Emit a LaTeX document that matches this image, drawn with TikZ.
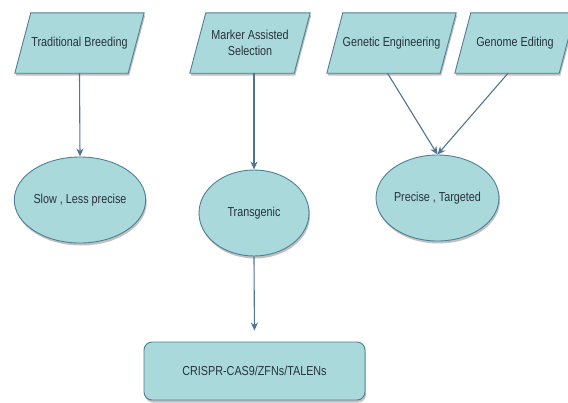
\documentclass[tikz,border=0pt]{standalone}
\usepackage{fontspec}
\setmainfont[FakeStretch=0.83]{Liberation Sans}
\usetikzlibrary{shapes.geometric,shadows,arrows.meta}
\pgfdeclarelayer{bg}
\pgfsetlayers{bg,main}
\definecolor{boxfill}{HTML}{A9D9DB}
\definecolor{boxedge}{HTML}{4E7F96}
\definecolor{arrowcol}{HTML}{4F7592}
\definecolor{txtcol}{HTML}{28333C}
\tikzset{
  look/.style={draw=boxedge, fill=boxfill, line width=0.9pt,
    drop shadow={shadow xshift=1pt, shadow yshift=-2.5pt, opacity=0.35, fill=black!70}},
  txt/.style={text=txtcol, font=\fontsize{13}{15.5}\selectfont, align=center, inner sep=0pt},
  paratext/.style={txt, rectangle, minimum height=60pt},
  ell/.style={look, txt, ellipse, minimum width=110pt, minimum height=86pt},
  rbox/.style={look, txt, rectangle, rounded corners=8pt, minimum width=221pt, minimum height=58pt},
  conn/.style={draw=arrowcol, line width=1.1pt, -{Stealth[length=8pt,width=7pt,inset=2.5pt]}}
}
\newcommand{\parashape}[1]{%
  \path[look] ([xshift=8pt]#1.north west) -- ([xshift=8pt]#1.north east)
    -- ([xshift=-8pt]#1.south east) -- ([xshift=-8pt]#1.south west) -- cycle;}
\begin{document}
\begin{tikzpicture}[x=1pt,y=-1pt]
\useasboundingbox (0,0) rectangle (568,402);
\node[paratext, minimum width=113pt] (tb) at (79.5,43) {Traditional Breeding};
\node[paratext, minimum width=104pt] (mas) at (250,43) {Marker Assisted\\Selection};
\node[paratext, minimum width=113pt] (ge) at (391.5,43) {Genetic Engineering};
\node[paratext, minimum width=104pt] (ged) at (515,43) {Genome Editing};
\begin{pgfonlayer}{bg}
\parashape{tb}
\parashape{mas}
\parashape{ge}
\parashape{ged}
\end{pgfonlayer}
\node[ell] (slow) at (80,200) {Slow , Less precise};
\node[ell] (trans) at (254,213) {Transgenic};
\node[ell] (prec) at (437.5,198) {Precise , Targeted};
\node[rbox] (crispr) at (254.5,371) {CRISPR-CAS9/ZFNs/TALENs};
\draw[conn] (tb.south) -- (slow.north);
\draw[conn] ([xshift=4pt]mas.south) -- (trans.north);
\draw[conn] ([xshift=-4pt]ge.south) -- (prec.north);
\draw[conn] ([xshift=-7pt]ged.south) -- (prec.north);
\draw[conn, shorten >=11pt] (trans.south) -- (crispr.north);
\end{tikzpicture}
\end{document}
